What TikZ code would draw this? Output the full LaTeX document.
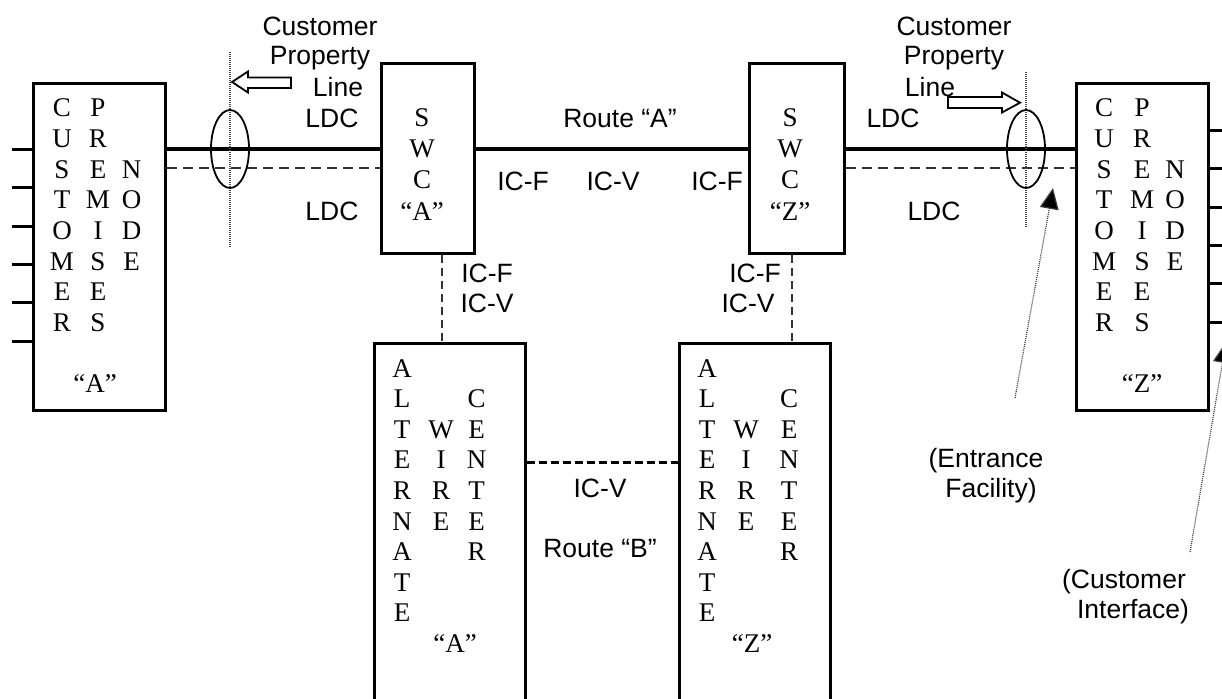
\documentclass[tikz,border=0pt]{standalone}
\usepackage{fontspec}
\setmainfont{Liberation Serif}
\newfontfamily\sansf{Liberation Sans}
\usetikzlibrary{arrows.meta,calc,shapes.geometric}
\tikzset{
  box/.style={draw, line width=3pt, inner sep=0pt},
  let/.style={font=\fontsize{27}{30}\selectfont, anchor=base, inner sep=0pt},
  lab/.style={font=\sansf\fontsize{26.5}{30}\selectfont, anchor=base, inner sep=0pt},
  mainline/.style={line width=4pt},
  dashline/.style={line width=2pt, dash pattern=on 10pt off 6pt, black!80},
  vdash/.style={line width=1.8pt, dash pattern=on 8pt off 5pt, black!80},
  bdash/.style={line width=3pt, dash pattern=on 8pt off 4pt},
  stub/.style={line width=3pt},
  propline/.style={line width=1.2pt, dash pattern=on 1pt off 1pt, black!70},
  ring/.style={draw, ellipse, line width=1.8pt, minimum width=38pt, minimum height=78pt, inner sep=0pt},
  hollow/.style={draw, line width=1.8pt, fill=white, line join=miter},
  pointer/.style={line width=1.2pt, dash pattern=on 1pt off 1pt, black!75, -{Triangle[length=21pt,width=19pt,fill=black]}},
}
\newcommand{\vcol}[4]{\foreach \ch [count=\i] in {#4} \node[let] (#1-\i) at (#2, {#3+30.6*(\i-1)}) {\ch};}
\begin{document}
\begin{tikzpicture}[x=1pt,y=-1pt]
\useasboundingbox (0,0) rectangle (1222,698);
\clip (0,0) rectangle (1222,698);

% boxes
\node[box, minimum width=132pt, minimum height=327pt] (cpnA) at (99.5,247) {};
\node[box, minimum width=132pt, minimum height=327pt] (cpnZ) at (1142.5,247) {};
\node[box, minimum width=93pt, minimum height=190pt] (swcA) at (428,158.5) {};
\node[box, minimum width=95pt, minimum height=190pt] (swcZ) at (797,158.5) {};
\node[box, minimum width=151pt, minimum height=390pt] (altA) at (450,538) {};
\node[box, minimum width=151pt, minimum height=390pt] (altZ) at (755,538) {};

% helper coordinates
\coordinate (mainY) at (0,149);
\coordinate (dashY) at (0,168);
\coordinate (routeBY) at (0,462);
\coordinate (vA) at (442,0);
\coordinate (vZ) at (792,0);

% main lines
\draw[mainline] (cpnA.east |- mainY) -- (swcA.west |- mainY);
\draw[mainline] (swcA.east |- mainY) -- (swcZ.west |- mainY);
\draw[mainline] (swcZ.east |- mainY) -- (cpnZ.west |- mainY);
\draw[dashline] (cpnA.east |- dashY) -- (swcA.west |- dashY);
\draw[dashline] (swcZ.east |- dashY) -- (cpnZ.west |- dashY);
\draw[vdash] (swcA.south -| vA) -- (altA.north -| vA);
\draw[vdash] (swcZ.south -| vZ) -- (altZ.north -| vZ);
\draw[bdash] (altA.east |- routeBY) -- (altZ.west |- routeBY);

% stubs
\foreach \yy [count=\k] in {149,187,226,264,302,341} {
  \coordinate (sl\k) at (12,\yy);
  \draw[stub] (sl\k) -- (sl\k -| cpnA.west);
}
\foreach \yy [count=\k] in {130,168,207,245,283,322} {
  \coordinate (sr\k) at (1224,\yy);
  \draw[stub] (sr\k -| cpnZ.east) -- (sr\k);
}

% property lines and rings
\coordinate (plA1) at (230,52);
\coordinate (plA2) at (230,247);
\coordinate (plZ1) at (1026,72);
\coordinate (plZ2) at (1026,227);
\draw[propline] (plA1) -- (plA2);
\draw[propline] (plZ1) -- (plZ2);
\node[ring] (ringA) at (230,149) {};
\node[ring] (ringZ) at (1026,149) {};

% hollow arrows
\draw[hollow] (291,77.5) -- (248,77.5) -- (248,71.5) -- (232,82) -- (248,92.5) -- (248,88) -- (291,88) -- cycle;
\draw[hollow] (948,97) -- (1002,97) -- (1002,92.5) -- (1020,102.7) -- (1002,112.5) -- (1002,108) -- (948,108) -- cycle;

% pointer arrows
\coordinate (efTail) at (1015,398);
\coordinate (efTip) at (1053,188);
\coordinate (ciTail) at (1190,552);
\coordinate (ciTip) at (1226,342);
\draw[pointer] (efTail) -- (efTip);
\draw[pointer] (ciTail) -- (ciTip);

% customer premises A
\vcol{caa}{62}{117}{C,U,S,T,O,M,E,R}
\vcol{cab}{98}{117}{P,R,E,M,I,S,E,S}
\vcol{cac}{131.5}{178.2}{N,O,D,E}
\node[let] (caq) at (95,392) {“A”};
% customer premises Z
\vcol{cza}{1104}{117}{C,U,S,T,O,M,E,R}
\vcol{czb}{1142}{117}{P,R,E,M,I,S,E,S}
\vcol{czc}{1175}{178.2}{N,O,D,E}
\node[let] (czq) at (1142,392) {“Z”};
% SWC
\vcol{swa}{422}{127}{S,W,C}
\node[let] (swaq) at (422,220) {“A”};
\vcol{swz}{790}{127}{S,W,C}
\node[let] (swzq) at (790,220) {“Z”};
% alternate wire centers
\vcol{ala}{402}{377}{A,L,T,E,R,N,A,T,E}
\vcol{alb}{441}{438.2}{W,I,R,E}
\vcol{alc}{476.5}{407.6}{C,E,N,T,E,R}
\node[let] (alq) at (455,652) {“A”};
\vcol{aza}{707}{377}{A,L,T,E,R,N,A,T,E}
\vcol{azb}{746}{438.2}{W,I,R,E}
\vcol{azc}{789}{407.6}{C,E,N,T,E,R}
\node[let] (azq) at (752,652) {“Z”};

% labels
\node[lab] (cplA1) at (320,36) {Customer};
\node[lab] (cplA2) at (320,65) {Property};
\node[lab] (cplA3) at (338,97) {Line};
\node[lab] (ldcA1) at (332,128) {LDC};
\node[lab] (ldcA2) at (332,220) {LDC};
\node[lab] (routeA) at (620,128) {Route “A”};
\node[lab] (icf1) at (523,190) {IC-F};
\node[lab] (icv1) at (613,190) {IC-V};
\node[lab] (icf2) at (717,190) {IC-F};
\node[lab] (cplZ1) at (954,36) {Customer};
\node[lab] (cplZ2) at (954,65) {Property};
\node[lab] (cplZ3) at (930,97) {Line};
\node[lab] (ldcZ1) at (893,128) {LDC};
\node[lab] (ldcZ2) at (934,220) {LDC};
\node[lab] (icfA) at (487,282) {IC-F};
\node[lab] (icvA) at (487,312) {IC-V};
\node[lab] (icfZ) at (755,282) {IC-F};
\node[lab] (icvZ) at (748,312) {IC-V};
\node[lab] (icvB) at (600,497) {IC-V};
\node[lab] (routeB) at (600,557) {Route “B”};
\node[lab] (ef1) at (986,467) {(Entrance};
\node[lab] (ef2) at (991,497) {Facility)};
\node[lab] (ci1) at (1124,588) {(Customer};
\node[lab] (ci2) at (1133,618) {Interface)};
\end{tikzpicture}
\end{document}
